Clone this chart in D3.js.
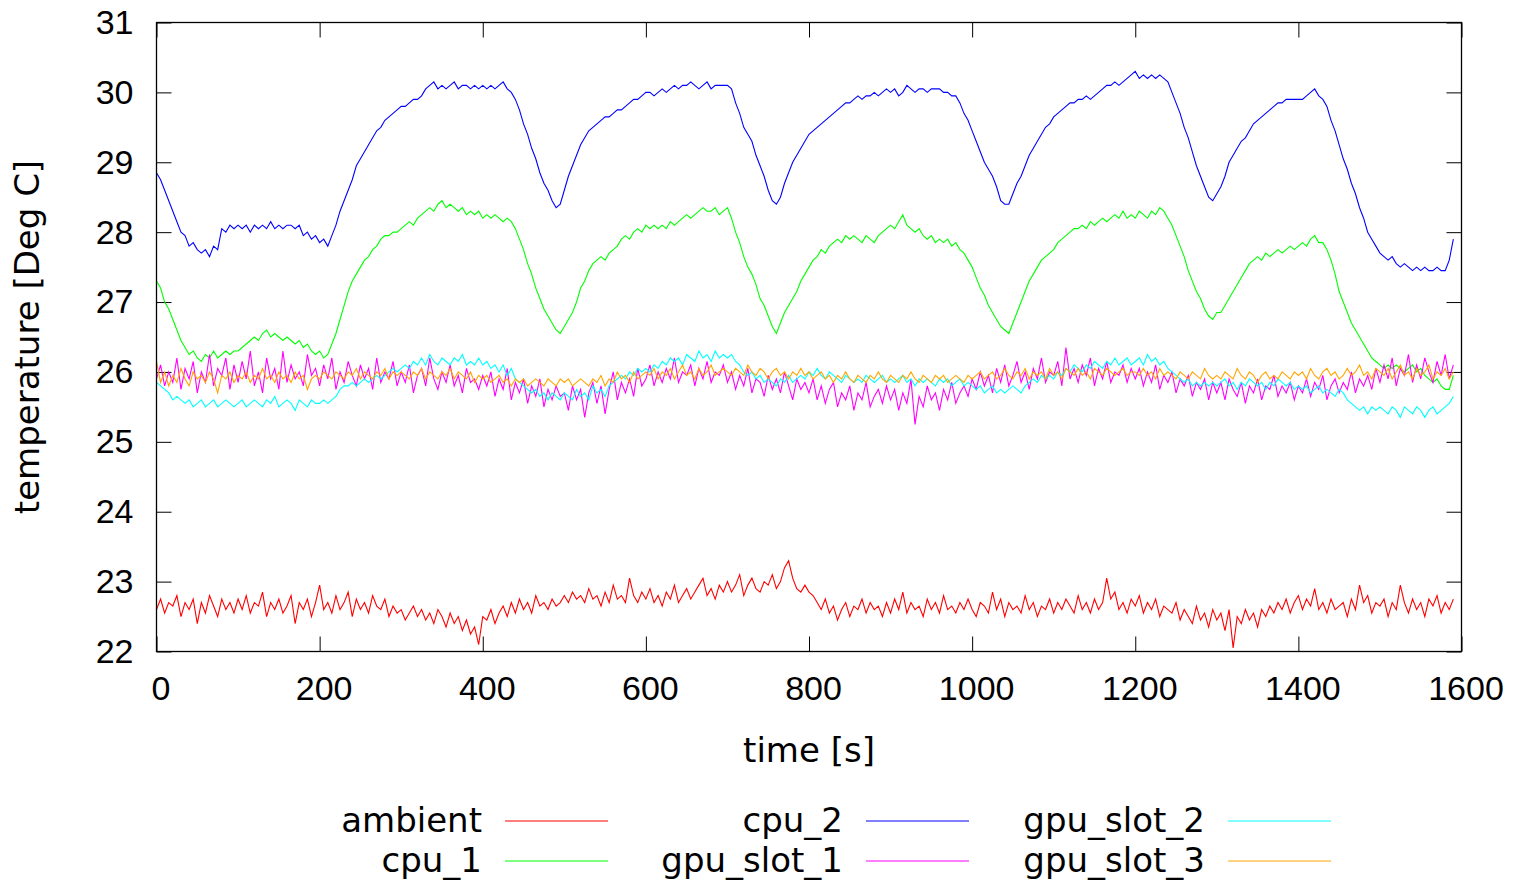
<!DOCTYPE html>
<html>
<head>
<meta charset="utf-8">
<script src="https://cdn.jsdelivr.net/npm/d3@7"></script>
<style>
  body { margin: 0; background: #fff; }
  svg { font-family: "DejaVu Sans", sans-serif; }
  .axis text { font-size: 34px; fill: #000; }
  .axis path, .axis line { stroke: #000; }
</style>
</head>
<body>
<div id="chart"></div>
<script>
// samples every 5 s, one row = 100 s
const timeStep = 5;

const ambient = [
  22.6, 22.75, 22.55, 22.7, 22.65, 22.8, 22.5, 22.7, 22.6, 22.75, 22.4, 22.7, 22.55, 22.8, 22.65, 22.5, 22.75, 22.6, 22.7, 22.55,
  22.75, 22.6, 22.8, 22.55, 22.7, 22.65, 22.85, 22.5, 22.7, 22.6, 22.75, 22.55, 22.65, 22.8, 22.4, 22.7, 22.6, 22.75, 22.5, 22.7,
  22.95, 22.6, 22.7, 22.55, 22.8, 22.6, 22.7, 22.85, 22.5, 22.75, 22.6, 22.7, 22.55, 22.8, 22.65, 22.6, 22.75, 22.5, 22.65, 22.55,
  22.6, 22.45, 22.55, 22.65, 22.5, 22.6, 22.45, 22.55, 22.4, 22.6, 22.5, 22.35, 22.55, 22.4, 22.5, 22.3, 22.45, 22.25, 22.35, 22.1,
  22.5, 22.45, 22.6, 22.4, 22.55, 22.65, 22.5, 22.7, 22.55, 22.75, 22.6, 22.7, 22.55, 22.8, 22.65, 22.7, 22.6, 22.75, 22.65, 22.7,
  22.8, 22.7, 22.85, 22.75, 22.8, 22.7, 22.9, 22.75, 22.8, 22.65, 22.85, 22.7, 22.95, 22.75, 22.8, 22.7, 23.05, 22.8, 22.7, 22.85,
  22.75, 22.9, 22.7, 22.8, 22.65, 22.85, 22.75, 22.95, 22.7, 22.8, 22.9, 22.75, 22.85, 22.95, 23.05, 22.8, 22.9, 22.75, 22.95, 22.85,
  23.0, 22.85, 22.95, 23.1, 22.8, 22.95, 23.05, 22.9, 22.85, 23.0, 22.95, 23.1, 22.9, 23.0, 23.2, 23.3, 23.05, 22.9, 22.85, 22.95,
  22.85, 22.8, 22.7, 22.6, 22.75, 22.55, 22.65, 22.45, 22.6, 22.7, 22.5, 22.65, 22.6, 22.75, 22.55, 22.7, 22.6, 22.65, 22.5, 22.7,
  22.55, 22.75, 22.6, 22.85, 22.55, 22.7, 22.6, 22.65, 22.5, 22.75, 22.6, 22.7, 22.55, 22.8, 22.6, 22.65, 22.55, 22.7, 22.6, 22.75,
  22.6, 22.5, 22.7, 22.65, 22.55, 22.85, 22.6, 22.75, 22.5, 22.7, 22.6, 22.65, 22.55, 22.8, 22.6, 22.7, 22.5, 22.65, 22.6, 22.75,
  22.55, 22.7, 22.6, 22.75, 22.65, 22.55, 22.8, 22.6, 22.7, 22.55, 22.75, 22.6, 22.7, 23.05, 22.75, 22.85, 22.6, 22.7, 22.55, 22.75,
  22.65, 22.8, 22.55, 22.7, 22.6, 22.75, 22.5, 22.65, 22.6, 22.55, 22.7, 22.45, 22.6, 22.5, 22.4, 22.65, 22.45, 22.55, 22.35, 22.6,
  22.45, 22.55, 22.3, 22.6, 22.05, 22.5, 22.4, 22.6, 22.45, 22.55, 22.35, 22.6, 22.5, 22.65, 22.55, 22.7, 22.6, 22.75, 22.55, 22.7,
  22.8, 22.6, 22.75, 22.65, 22.9, 22.6, 22.7, 22.55, 22.75, 22.6, 22.65, 22.7, 22.5, 22.75, 22.6, 22.95, 22.7, 22.8, 22.55, 22.7,
  22.65, 22.75, 22.5, 22.7, 22.6, 22.95, 22.7, 22.55, 22.75, 22.6, 22.7, 22.5, 22.75, 22.65, 22.8, 22.55, 22.7, 22.6, 22.75
];

const cpu1 = [
  27.3, 27.2, 27.0, 26.9, 26.75, 26.6, 26.45, 26.35, 26.25, 26.3, 26.2, 26.15, 26.25, 26.2, 26.3, 26.2, 26.25, 26.3, 26.25, 26.3,
  26.3, 26.35, 26.4, 26.45, 26.5, 26.45, 26.55, 26.6, 26.5, 26.55, 26.5, 26.45, 26.5, 26.45, 26.4, 26.45, 26.35, 26.4, 26.3, 26.25,
  26.3, 26.2, 26.25, 26.4, 26.55, 26.75, 26.95, 27.15, 27.3, 27.4, 27.5, 27.6, 27.65, 27.75, 27.8, 27.9, 27.95, 27.95, 28.0, 28.0,
  28.05, 28.1, 28.15, 28.1, 28.2, 28.25, 28.3, 28.35, 28.3, 28.4, 28.45, 28.35, 28.4, 28.35, 28.3, 28.35, 28.25, 28.3, 28.25, 28.3,
  28.2, 28.25, 28.2, 28.25, 28.2, 28.15, 28.2, 28.15, 28.05, 27.9, 27.75, 27.55, 27.4, 27.2, 27.05, 26.9, 26.8, 26.7, 26.6, 26.55,
  26.65, 26.75, 26.85, 27.0, 27.2, 27.3, 27.45, 27.55, 27.6, 27.65, 27.6, 27.7, 27.75, 27.8, 27.9, 27.95, 27.9, 28.0, 28.05, 28.0,
  28.1, 28.05, 28.1, 28.05, 28.1, 28.05, 28.15, 28.1, 28.15, 28.2, 28.25, 28.2, 28.25, 28.3, 28.35, 28.3, 28.3, 28.35, 28.25, 28.3,
  28.35, 28.2, 28.0, 27.85, 27.65, 27.5, 27.4, 27.25, 27.05, 26.95, 26.8, 26.65, 26.55, 26.7, 26.85, 26.95, 27.05, 27.15, 27.3, 27.4,
  27.5, 27.6, 27.65, 27.75, 27.7, 27.8, 27.85, 27.9, 27.85, 27.95, 27.9, 27.95, 27.9, 27.85, 27.95, 27.9, 27.85, 27.95, 28.0, 28.05,
  28.1, 28.05, 28.15, 28.25, 28.1, 28.05, 28.0, 28.05, 27.95, 27.9, 27.95, 27.85, 27.9, 27.85, 27.9, 27.8, 27.85, 27.75, 27.7, 27.6,
  27.5, 27.35, 27.2, 27.1, 26.95, 26.85, 26.75, 26.65, 26.6, 26.55, 26.7, 26.85, 27.0, 27.15, 27.3, 27.4, 27.5, 27.6, 27.65, 27.7,
  27.75, 27.85, 27.9, 27.95, 28.0, 28.05, 28.05, 28.1, 28.05, 28.15, 28.1, 28.15, 28.2, 28.15, 28.2, 28.25, 28.2, 28.3, 28.2, 28.25,
  28.2, 28.3, 28.25, 28.2, 28.3, 28.25, 28.35, 28.3, 28.2, 28.1, 27.95, 27.8, 27.65, 27.45, 27.3, 27.15, 27.05, 26.9, 26.8, 26.75,
  26.85, 26.85, 26.95, 27.05, 27.15, 27.25, 27.35, 27.45, 27.55, 27.6, 27.65, 27.6, 27.7, 27.65, 27.7, 27.75, 27.7, 27.75, 27.8, 27.75,
  27.8, 27.85, 27.8, 27.9, 27.95, 27.85, 27.85, 27.75, 27.6, 27.4, 27.15, 27.0, 26.85, 26.7, 26.6, 26.5, 26.4, 26.3, 26.2, 26.15,
  26.1, 26.05, 26.1, 26.05, 26.1, 26.05, 26.0, 26.05, 26.1, 26.0, 26.05, 25.95, 25.9, 25.85, 25.9, 25.8, 25.75, 25.75, 25.95
];

const cpu2 = [
  28.85, 28.75, 28.6, 28.45, 28.3, 28.15, 28.0, 27.95, 27.8, 27.85, 27.75, 27.7, 27.75, 27.65, 27.8, 27.75, 28.05, 28.0, 28.1, 28.05,
  28.1, 28.05, 28.1, 28.0, 28.1, 28.05, 28.1, 28.05, 28.15, 28.05, 28.1, 28.05, 28.1, 28.1, 28.05, 28.1, 27.95, 28.0, 27.9, 27.95,
  27.85, 27.9, 27.8, 27.95, 28.1, 28.3, 28.45, 28.6, 28.75, 28.95, 29.05, 29.15, 29.25, 29.35, 29.45, 29.5, 29.6, 29.65, 29.7, 29.75,
  29.8, 29.8, 29.85, 29.9, 29.9, 29.95, 30.05, 30.1, 30.15, 30.05, 30.1, 30.05, 30.1, 30.15, 30.05, 30.1, 30.1, 30.05, 30.1, 30.05,
  30.1, 30.05, 30.1, 30.05, 30.1, 30.15, 30.05, 30.0, 29.9, 29.75, 29.55, 29.4, 29.2, 29.05, 28.85, 28.7, 28.6, 28.45, 28.35, 28.4,
  28.6, 28.8, 28.95, 29.1, 29.25, 29.35, 29.45, 29.5, 29.55, 29.6, 29.65, 29.65, 29.7, 29.75, 29.75, 29.8, 29.85, 29.9, 29.9, 29.95,
  30.0, 30.0, 29.95, 30.0, 30.05, 30.0, 30.05, 30.1, 30.05, 30.1, 30.1, 30.15, 30.1, 30.05, 30.1, 30.15, 30.05, 30.1, 30.1, 30.1,
  30.1, 30.05, 29.85, 29.7, 29.5, 29.4, 29.3, 29.1, 28.95, 28.8, 28.6, 28.45, 28.4, 28.5, 28.7, 28.85, 29.0, 29.1, 29.2, 29.3,
  29.4, 29.45, 29.5, 29.55, 29.6, 29.65, 29.7, 29.75, 29.8, 29.85, 29.85, 29.9, 29.95, 29.9, 29.95, 29.95, 30.0, 29.95, 30.0, 30.05,
  30.0, 30.05, 29.95, 30.0, 30.1, 30.05, 30.0, 30.05, 30.05, 30.0, 30.05, 30.05, 30.05, 30.0, 30.0, 29.95, 29.95, 29.85, 29.7, 29.6,
  29.45, 29.3, 29.15, 29.0, 28.9, 28.8, 28.65, 28.45, 28.4, 28.4, 28.55, 28.7, 28.8, 28.95, 29.1, 29.2, 29.3, 29.4, 29.5, 29.55,
  29.65, 29.7, 29.75, 29.8, 29.85, 29.85, 29.9, 29.9, 29.95, 29.9, 29.95, 30.0, 30.05, 30.1, 30.1, 30.15, 30.1, 30.15, 30.2, 30.25,
  30.3, 30.2, 30.25, 30.2, 30.25, 30.2, 30.25, 30.2, 30.15, 30.0, 29.85, 29.7, 29.5, 29.35, 29.15, 28.95, 28.8, 28.65, 28.5, 28.45,
  28.55, 28.65, 28.8, 29.0, 29.1, 29.2, 29.3, 29.35, 29.45, 29.55, 29.6, 29.65, 29.7, 29.75, 29.8, 29.85, 29.85, 29.9, 29.9, 29.9,
  29.9, 29.9, 29.95, 30.0, 30.05, 29.95, 29.9, 29.8, 29.6, 29.45, 29.25, 29.05, 28.9, 28.7, 28.55, 28.35, 28.2, 28.0, 27.9, 27.8,
  27.7, 27.65, 27.6, 27.65, 27.55, 27.5, 27.55, 27.5, 27.45, 27.5, 27.45, 27.5, 27.45, 27.45, 27.5, 27.45, 27.45, 27.6, 27.9
];

const gpuSlot1 = [
  25.9, 26.1, 25.8, 26.0, 25.85, 26.2, 25.75, 26.05, 25.9, 26.15, 25.7, 26.0, 25.85, 26.25, 25.8, 26.05, 25.95, 26.2, 25.75, 26.1,
  25.85, 26.15, 25.9, 26.3, 25.8, 26.0, 25.7, 26.2, 25.9, 26.05, 25.75, 26.3, 25.85, 26.1, 25.9, 26.0, 25.8, 26.25, 25.95, 26.05,
  25.8, 26.1, 25.9, 26.2, 25.75, 26.0, 25.85, 26.15, 25.95, 25.8, 26.1, 25.9, 26.05, 25.75, 26.2, 25.85, 26.0, 25.9, 26.15, 25.8,
  26.0, 25.85, 26.1, 25.7, 25.95, 26.05, 25.8, 26.2, 25.9, 25.75, 26.0, 25.85, 26.1, 25.8, 25.95, 25.7, 26.05, 25.85, 25.9, 25.75,
  25.95, 25.8, 26.0, 25.65, 25.9, 25.75, 26.05, 25.6, 25.85, 25.7, 25.9, 25.55, 25.8, 25.65, 25.9, 25.5, 25.75, 25.6, 25.8, 25.65,
  25.7, 25.45, 25.8, 25.6, 25.75, 25.35, 25.7, 25.85, 25.55, 25.8, 25.4, 25.75, 26.0, 25.6, 25.85, 25.7, 25.9, 25.65, 26.05, 25.8,
  25.9, 26.1, 25.8, 26.0, 25.85, 26.05, 25.9, 26.2, 25.85, 26.0, 25.95, 26.1, 25.8, 26.05, 25.9, 26.15, 25.85, 26.0, 25.95, 26.1,
  25.85, 26.0, 25.75, 25.95, 25.8, 26.05, 25.7, 25.9, 25.85, 25.65, 25.95, 25.75, 25.9, 25.7, 26.0, 25.8, 25.6, 25.9, 25.75, 25.85,
  25.7, 25.9, 25.6, 25.8, 25.55, 25.75, 25.85, 25.5, 25.7, 25.6, 25.8, 25.45, 25.7, 25.6, 25.85, 25.5, 25.65, 25.75, 25.55, 25.8,
  25.6, 25.75, 25.45, 25.7, 25.55, 25.9, 25.25, 25.65, 25.5, 25.8, 25.6, 25.7, 25.45, 25.75, 25.6, 25.85, 25.55, 25.7, 25.8, 25.65,
  25.9, 25.75, 26.0, 25.8, 25.95, 25.7, 26.05, 25.85, 26.1, 25.8, 25.95, 26.15, 25.85, 26.0, 25.75, 26.05, 25.9, 26.2, 25.85, 26.0,
  25.95, 26.15, 25.8, 26.35, 25.9, 26.05, 25.85, 26.1, 25.95, 26.2, 25.8, 26.05, 25.9, 26.15, 25.85, 26.0, 25.95, 26.1, 25.85, 26.05,
  25.9, 26.05, 25.8, 26.0, 25.85, 26.1, 25.75, 25.95, 25.85, 26.0, 25.7, 25.9, 25.8, 25.95, 25.65, 25.85, 25.75, 25.9, 25.6, 25.85,
  25.7, 25.85, 25.6, 25.9, 25.75, 25.65, 25.85, 25.55, 25.8, 25.7, 25.9, 25.6, 25.8, 25.75, 25.95, 25.65, 25.8, 25.7, 25.85, 25.6,
  25.8, 25.7, 25.9, 25.65, 25.85, 25.75, 25.95, 25.6, 25.8, 25.9, 25.7, 25.85, 25.75, 26.0, 25.7, 25.9, 25.8, 25.95, 25.75, 26.05,
  25.85, 26.1, 25.9, 26.2, 25.8, 26.05, 25.95, 26.25, 25.85, 26.1, 25.9, 26.2, 26.0, 25.85, 26.15, 25.95, 26.25, 25.9, 26.1
];

const gpuSlot2 = [
  25.85, 25.8, 25.75, 25.7, 25.6, 25.65, 25.6, 25.55, 25.6, 25.5, 25.55, 25.6, 25.5, 25.55, 25.6, 25.5, 25.55, 25.6, 25.55, 25.5,
  25.55, 25.6, 25.5, 25.55, 25.6, 25.55, 25.5, 25.6, 25.55, 25.65, 25.5, 25.55, 25.6, 25.55, 25.45, 25.6, 25.55, 25.5, 25.6, 25.55,
  25.55, 25.6, 25.55, 25.6, 25.65, 25.75, 25.8, 25.8, 25.85, 25.8, 25.85, 25.9, 25.85, 25.9, 25.95, 25.9, 25.95, 26.0, 26.05, 26.0,
  26.05, 26.1, 26.05, 26.15, 26.1, 26.2, 26.1, 26.25, 26.15, 26.1, 26.2, 26.15, 26.1, 26.2, 26.15, 26.25, 26.1, 26.15, 26.1, 26.2,
  26.1, 26.15, 26.05, 26.1, 26.0, 26.1, 25.95, 26.05, 25.9, 25.85, 25.8, 25.75, 25.7, 25.75, 25.65, 25.7, 25.6, 25.7, 25.65, 25.6,
  25.7, 25.65, 25.6, 25.75, 25.65, 25.7, 25.6, 25.8, 25.7, 25.75, 25.65, 25.8, 25.85, 25.9, 25.95, 25.9, 26.0, 25.95, 26.05, 26.0,
  26.05, 26.0, 26.1, 26.05, 26.15, 26.1, 26.2, 26.15, 26.2, 26.1, 26.25, 26.2, 26.15, 26.3, 26.2, 26.25, 26.15, 26.3, 26.2, 26.25,
  26.2, 26.25, 26.15, 26.1, 26.0, 25.95, 26.0, 25.9, 25.95, 25.85, 25.9, 25.85, 25.8, 25.9, 25.85, 25.95, 25.85, 25.9, 25.95, 25.9,
  26.0, 25.95, 26.05, 25.95, 25.9, 26.0, 25.95, 25.9, 25.85, 25.95, 25.9, 25.85, 25.9, 25.85, 25.95, 25.9, 25.85, 25.9, 25.95, 25.85,
  25.9, 25.85, 25.9, 25.95, 25.85, 25.9, 25.8, 25.9, 25.85, 25.9, 25.85, 25.8, 25.9, 25.85, 25.9, 25.8, 25.85, 25.9, 25.8, 25.85,
  25.8, 25.75, 25.8, 25.7, 25.75, 25.8, 25.7, 25.75, 25.7, 25.75, 25.8, 25.75, 25.7, 25.8, 25.85, 25.9, 25.85, 25.95, 25.9, 25.95,
  25.9, 26.0, 25.95, 26.05, 26.0, 26.1, 26.05, 26.0, 26.1, 26.05, 26.15, 26.1, 26.05, 26.15, 26.1, 26.2, 26.1, 26.15, 26.2, 26.1,
  26.15, 26.2, 26.1, 26.25, 26.15, 26.2, 26.1, 26.15, 26.05, 26.0, 25.95, 25.9, 25.85, 25.9, 25.8, 25.85, 25.8, 25.85, 25.8, 25.85,
  25.8, 25.85, 25.9, 25.8, 25.85, 25.75, 25.85, 25.8, 25.9, 25.85, 25.8, 25.85, 25.75, 25.85, 25.8, 25.9, 25.85, 25.8, 25.85, 25.75,
  25.8, 25.75, 25.8, 25.7, 25.75, 25.8, 25.7, 25.75, 25.7, 25.65, 25.75, 25.7, 25.6, 25.55, 25.5, 25.45, 25.5, 25.4, 25.5, 25.45,
  25.5, 25.45, 25.4, 25.5, 25.45, 25.35, 25.5, 25.45, 25.4, 25.5, 25.45, 25.35, 25.45, 25.5, 25.4, 25.45, 25.5, 25.55, 25.65
];

const gpuSlot3 = [
  26.15, 25.85, 26.0, 25.8, 25.95, 25.85, 26.05, 25.9, 25.8, 26.0, 25.9, 25.95, 25.85, 26.0, 25.9, 25.7, 25.95, 25.9, 26.0, 25.85,
  25.95, 25.9, 26.0, 25.85, 25.95, 25.9, 26.05, 25.9, 25.95, 25.85, 26.0, 25.9, 25.95, 25.85, 26.0, 25.9, 25.95, 25.75, 25.9, 25.95,
  25.9, 26.0, 25.95, 25.9, 26.0, 25.95, 25.9, 26.0, 25.95, 26.05, 25.9, 26.0, 25.95, 25.9, 26.0, 25.95, 26.05, 25.9, 26.0, 25.95,
  26.0, 25.95, 25.9, 26.0, 25.95, 26.05, 25.9, 26.0, 25.95, 25.9, 26.0, 25.95, 26.05, 25.9, 26.0, 25.95, 25.9, 26.0, 25.85, 25.95,
  25.9, 25.95, 25.85, 25.9, 25.95, 25.85, 25.9, 25.8, 25.9, 25.85, 25.9, 25.8, 25.85, 25.9, 25.85, 25.8, 25.9, 25.85, 25.8, 25.9,
  25.85, 25.9, 25.8, 25.85, 25.9, 25.85, 25.8, 25.9, 25.85, 25.95, 25.8, 25.9, 25.85, 26.0, 25.9, 25.95, 25.85, 26.0, 25.9, 25.95,
  26.0, 25.95, 26.05, 25.9, 26.0, 25.95, 26.05, 25.9, 26.0, 26.1, 25.95, 26.0, 25.9, 26.05, 25.95, 26.0, 26.1, 25.95, 26.0, 26.05,
  26.0, 25.95, 26.05, 26.0, 25.95, 26.1, 26.0, 25.95, 26.05, 26.0, 25.9, 26.0, 26.05, 25.95, 26.0, 25.9, 26.0, 25.95, 26.05, 25.95,
  26.0, 25.9, 25.95, 26.0, 25.9, 25.95, 25.85, 25.95, 25.9, 26.0, 25.9, 25.85, 25.95, 25.9, 25.85, 25.95, 25.9, 26.0, 25.9, 25.85,
  25.95, 25.9, 25.85, 25.95, 25.9, 26.0, 25.9, 25.85, 25.95, 25.9, 25.85, 25.95, 25.9, 25.95, 25.85, 25.9, 25.95, 25.9, 25.85, 25.95,
  25.9, 25.95, 26.0, 25.9, 25.95, 26.0, 25.9, 25.95, 26.05, 25.95, 25.9, 26.0, 25.95, 26.05, 25.9, 26.0, 25.95, 26.0, 25.9, 26.05,
  25.95, 26.0, 25.9, 26.05, 26.0, 25.95, 26.05, 25.95, 26.0, 25.9, 26.05, 26.0, 25.95, 26.05, 26.0, 25.95, 26.0, 26.05, 25.95, 26.0,
  26.0, 25.95, 26.05, 25.95, 26.0, 25.9, 26.05, 25.95, 26.0, 25.95, 25.9, 26.0, 25.95, 25.9, 26.0, 25.95, 25.9, 26.05, 25.95, 25.9,
  25.95, 25.9, 26.0, 25.95, 25.9, 26.05, 25.95, 25.9, 26.0, 25.95, 25.85, 25.95, 26.0, 25.9, 25.95, 25.9, 26.0, 25.95, 25.9, 26.0,
  25.95, 26.0, 25.9, 26.05, 25.95, 25.9, 26.0, 26.05, 25.95, 26.0, 25.9, 25.95, 26.05, 25.95, 26.0, 26.1, 25.95, 26.0, 25.9, 26.05,
  26.0, 25.95, 26.05, 25.9, 26.0, 26.1, 25.95, 26.0, 25.9, 26.05, 25.95, 26.0, 26.1, 25.9, 26.0, 25.95, 26.05, 25.9, 26.0
];

const seriesNames = ["ambient", "cpu_1", "cpu_2", "gpu_slot_1", "gpu_slot_2", "gpu_slot_3"];
const seriesValues = [ambient, cpu1, cpu2, gpuSlot1, gpuSlot2, gpuSlot3];
const seriesColors = ["#ff0000", "#00ff00", "#0000ff", "#ff00ff", "#00ffff", "#ffa500"];

const xTicks = [0, 200, 400, 600, 800, 1000, 1200, 1400, 1600];
const yTicks = [22, 23, 24, 25, 26, 27, 28, 29, 30, 31];

const margin = {top: 22.5, right: 55.5, bottom: 229.5, left: 156.5};
const totalW = 1517, totalH = 881;
const width = totalW - margin.left - margin.right;
const height = totalH - margin.top - margin.bottom;

const svg = d3.select("#chart").append("svg")
    .attr("width", totalW)
    .attr("height", totalH);

const g = svg.append("g")
    .attr("transform", "translate(" + margin.left + "," + margin.top + ")");

const x = d3.scaleLinear().domain([0, 1600]).range([0, width]);
const y = d3.scaleLinear().domain([22, 31]).range([height, 0]);

// inward ticks on all four sides (gnuplot style)
g.append("g")
    .attr("class", "axis x-axis")
    .attr("transform", "translate(0," + height + ")")
    .call(d3.axisBottom(x).tickValues(xTicks).tickFormat(d3.format("d"))
        .tickSizeInner(-15).tickSizeOuter(0).tickPadding(24))
    .call(a => a.selectAll("text").attr("dx", 4).attr("dy", "0.71em"));

g.append("g")
    .attr("class", "axis x-axis-top")
    .call(d3.axisTop(x).tickValues(xTicks).tickSizeInner(-15).tickSizeOuter(0).tickFormat(""));

g.append("g")
    .attr("class", "axis y-axis")
    .call(d3.axisLeft(y).tickValues(yTicks).tickFormat(d3.format("d"))
        .tickSizeInner(-15).tickSizeOuter(0).tickPadding(23));

g.append("g")
    .attr("class", "axis y-axis-right")
    .attr("transform", "translate(" + width + ",0)")
    .call(d3.axisRight(y).tickValues(yTicks).tickSizeInner(-15).tickSizeOuter(0).tickFormat(""));

g.selectAll(".domain").remove();

g.append("clipPath").attr("id", "plot-clip")
  .append("rect").attr("width", width).attr("height", height);

const line = d3.line()
    .x((d, i) => x(i * timeStep))
    .y(d => y(d));

g.append("g").attr("clip-path", "url(#plot-clip)")
  .selectAll(".series")
  .data(seriesValues)
  .enter().append("path")
    .attr("class", "series")
    .attr("fill", "none")
    .attr("stroke", (d, i) => seriesColors[i])
    .attr("stroke-width", 1.1)
    .attr("d", line);

g.append("rect")
    .attr("width", width)
    .attr("height", height)
    .attr("fill", "none")
    .attr("stroke", "#000")
    .attr("stroke-width", 1.3);

// axis titles
svg.append("text")
    .attr("transform", "translate(39," + (margin.top + height / 2) + ") rotate(-90)")
    .attr("text-anchor", "middle")
    .style("font-size", "34px")
    .text("temperature [Deg C]");

svg.append("text")
    .attr("x", margin.left + width / 2)
    .attr("y", 762)
    .attr("text-anchor", "middle")
    .style("font-size", "34px")
    .text("time [s]");

// legend: two rows, filled column by column
const legend = svg.append("g").attr("class", "legend");
const colTextRight = [482, 843, 1205];
const rowY = [821, 861];

seriesNames.forEach(function (name, i) {
    let col = Math.floor(i / 2);
    let row = i % 2;
    legend.append("text")
        .attr("x", colTextRight[col])
        .attr("y", rowY[row] + 11)
        .attr("text-anchor", "end")
        .style("font-size", "34px")
        .text(name);
    legend.append("line")
        .attr("x1", colTextRight[col] + 23)
        .attr("x2", colTextRight[col] + 126)
        .attr("y1", rowY[row])
        .attr("y2", rowY[row])
        .attr("stroke", seriesColors[i])
        .attr("stroke-width", 1.1);
});
</script>
</body>
</html>
